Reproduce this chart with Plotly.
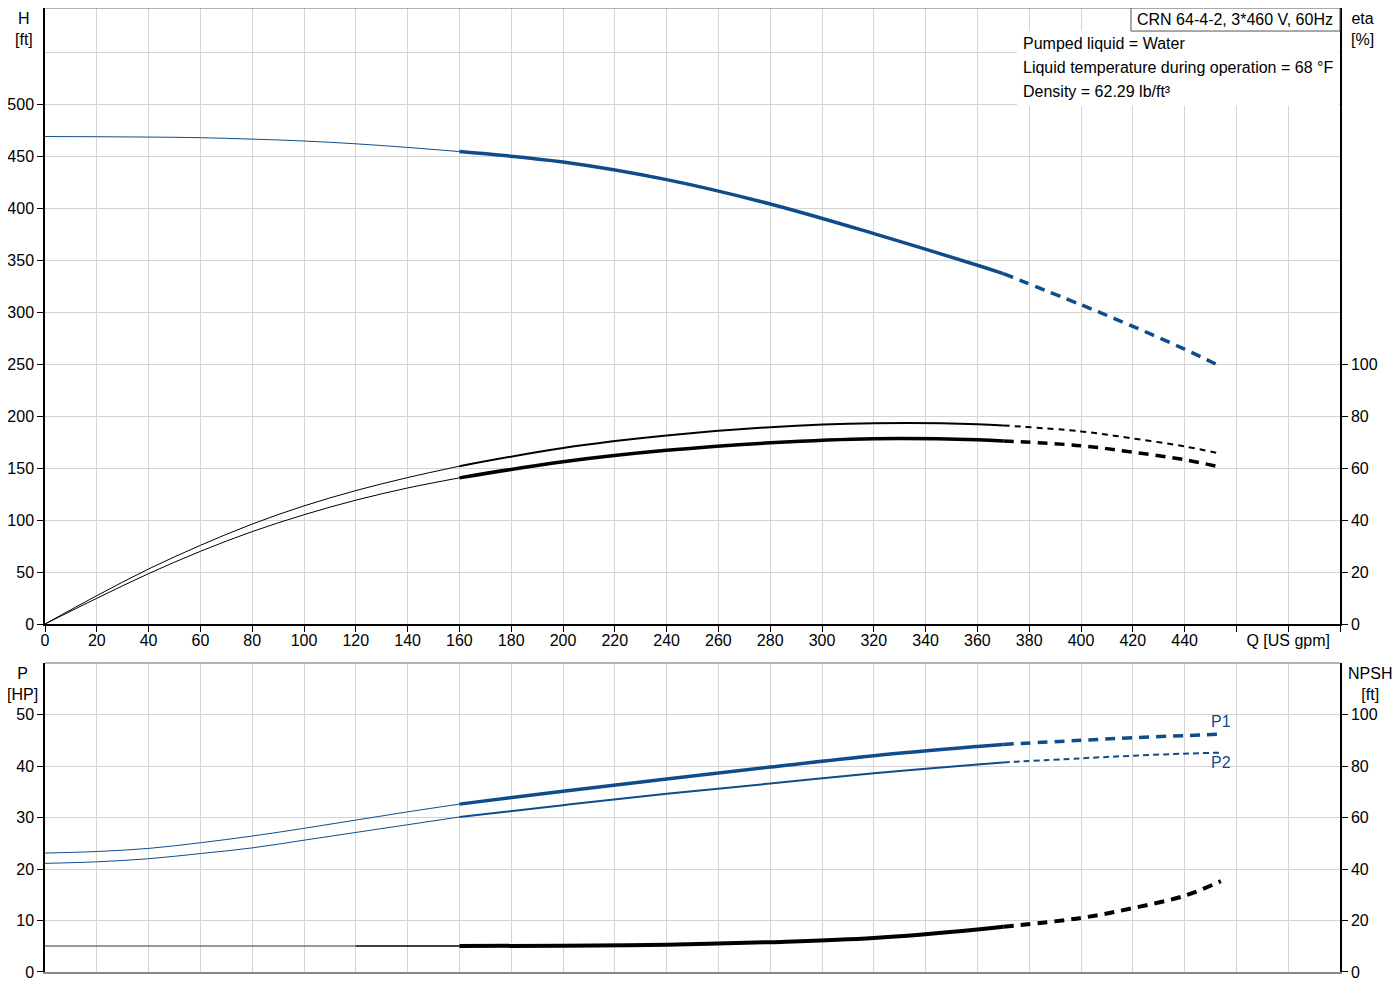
"""Curvas de la bomba CRN 64-4-2 (H, eta, P1, P2, NPSH) con Plotly"""

import plotly.graph_objects as go

# Caudal (US gpm) en el que se leyeron los valores
q = [0, 20, 40, 60, 80, 100, 120, 140, 160, 200, 240, 280, 320, 360, 370,
     400, 420, 440, 454]

# Altura H [ft]
altura = [469.5, 469.3, 469.0, 468.4, 467.0, 465.2, 462.5, 459.0, 455.0,
          445.0, 428.0, 404.5, 376.0, 345.5, 337.5, 307.5, 286.7, 264.7, 248.0]

# Rendimientos [%]
eta_1 = [0, 10.9, 21.2, 30.3, 38.5, 45.5, 51.4, 56.4, 60.8, 67.8, 72.6, 75.8,
         77.3, 77.0, 76.5, 74.2, 71.5, 68.4, 65.6]
eta_2 = [0, 9.9, 19.4, 28.0, 35.6, 42.1, 47.7, 52.4, 56.3, 62.5, 66.9, 69.8,
         71.4, 71.0, 70.5, 68.7, 66.2, 63.3, 60.4]

# Potencias [HP]
p1 = [23.1, 23.4, 24.0, 25.1, 26.4, 27.9, 29.5, 31.1, 32.6, 35.1, 37.5, 39.8,
      42.0, 43.8, 44.2, 45.0, 45.5, 45.9, 46.2]
p2 = [21.1, 21.4, 22.0, 23.0, 24.1, 25.6, 27.1, 28.6, 30.1, 32.4, 34.6, 36.6,
      38.6, 40.3, 40.7, 41.5, 42.0, 42.4, 42.6]

# NPSH [ft]
npsh = [10.1, 10.1, 10.1, 10.1, 10.1, 10.1, 10.1, 10.1, 10.1, 10.2, 10.6,
        11.6, 13.2, 16.5, 17.6, 21.0, 24.8, 29.6, 35.3]

# Etiquetas de los ejes
q_ticks = list(range(0, 520, 20))
q_labels = [str(v) for v in range(0, 460, 20)] + ["", "Q [US gpm]", ""]
h_ticks = list(range(0, 550, 50))
eta_ticks = list(range(0, 120, 20))
p_ticks = list(range(0, 60, 10))
npsh_ticks = list(range(0, 120, 20))

info = ["Pumped liquid = Water",
        "Liquid temperature during operation = 68 °F",
        "Density = 62.29 lb/ft³"]
titulo = "CRN 64-4-2, 3*460 V, 60Hz"

azul = "#0f4d8a"
negro = "#000000"
gris = "#d4d4d4"
fuente = "Liberation Sans, Arial, sans-serif"

i160 = q.index(160)
i370 = q.index(370)
i120 = q.index(120)


def tramos(fig, y, color, ancho, ancho_fino, dash, xa, ya):
    """Dibuja tramo fino, tramo continuo y tramo discontinuo"""
    fig.add_trace(go.Scatter(x=q[:i160 + 1], y=y[:i160 + 1], mode="lines",
                             line=dict(color=color, width=ancho_fino, shape="spline"),
                             xaxis=xa, yaxis=ya, showlegend=False, hoverinfo="skip"))
    fig.add_trace(go.Scatter(x=q[i160:i370 + 1], y=y[i160:i370 + 1], mode="lines",
                             line=dict(color=color, width=ancho, shape="spline"),
                             xaxis=xa, yaxis=ya, showlegend=False, hoverinfo="skip"))
    fig.add_trace(go.Scatter(x=q[i370:], y=y[i370:], mode="lines",
                             line=dict(color=color, width=ancho, dash=dash, shape="spline"),
                             xaxis=xa, yaxis=ya, showlegend=False, hoverinfo="skip"))


fig = go.Figure()

# Panel superior
tramos(fig, altura, azul, 3.5, 1, "10px,7px", "x", "y")
tramos(fig, eta_1, negro, 2, 1, "6px,5px", "x", "y2")
tramos(fig, eta_2, negro, 3.5, 1, "10px,7px", "x", "y2")

# Panel inferior
tramos(fig, p1, azul, 3.5, 1, "10px,7px", "x2", "y3")
tramos(fig, p2, azul, 2, 1, "6px,4px", "x2", "y3")

# NPSH: primer tramo gris y luego negro
fig.add_trace(go.Scatter(x=q[:i120 + 1], y=npsh[:i120 + 1], mode="lines",
                         line=dict(color="#777777", width=1.5),
                         xaxis="x2", yaxis="y4", showlegend=False, hoverinfo="skip"))
fig.add_trace(go.Scatter(x=q[i120:i160 + 1], y=npsh[i120:i160 + 1], mode="lines",
                         line=dict(color=negro, width=1.5),
                         xaxis="x2", yaxis="y4", showlegend=False, hoverinfo="skip"))
fig.add_trace(go.Scatter(x=q[i160:i370 + 1], y=npsh[i160:i370 + 1], mode="lines",
                         line=dict(color=negro, width=4, shape="spline"),
                         xaxis="x2", yaxis="y4", showlegend=False, hoverinfo="skip"))
fig.add_trace(go.Scatter(x=q[i370:], y=npsh[i370:], mode="lines",
                         line=dict(color=negro, width=4, dash="10px,7px", shape="spline"),
                         xaxis="x2", yaxis="y4", showlegend=False, hoverinfo="skip"))

eje = dict(showline=True, linecolor=negro, linewidth=1.5, ticks="outside",
           ticklen=6, tickcolor=negro, tickfont=dict(size=16, color=negro),
           zeroline=False, automargin=False)

# La página deja 8 px de margen, el área de datos se ajusta a eso
top_dom = [0.3610, 1.0]
bot_dom = [0.0, 0.3205]
h_max = 593.3

fig.update_layout(
    width=1392, height=992,
    margin=dict(l=37, r=60, t=0, b=28),
    plot_bgcolor="white", paper_bgcolor="white",
    font=dict(family=fuente, size=16, color=negro),
    xaxis=dict(eje, domain=[0, 1], range=[0, 500], anchor="y",
               tickvals=q_ticks, ticktext=q_labels, ticklabelstandoff=-5,
               showgrid=True, gridcolor=gris, gridwidth=1),
    xaxis2=dict(domain=[0, 1], range=[0, 500], anchor="y3",
                tickvals=q_ticks, showticklabels=False, ticks="",
                showline=True, linecolor="#888888", linewidth=1.5,
                showgrid=True, gridcolor=gris, gridwidth=1, zeroline=False,
                automargin=False),
    yaxis=dict(eje, domain=top_dom, range=[0, h_max], anchor="x",
               tickvals=h_ticks, showgrid=True, gridcolor=gris, gridwidth=1,
               minor=dict(tickvals=[550], showgrid=True, gridcolor=gris, ticks="")),
    yaxis2=dict(eje, domain=top_dom, range=[0, h_max * 0.4], anchor="x",
                overlaying="y", side="right", tickvals=eta_ticks, showgrid=False),
    yaxis3=dict(eje, domain=bot_dom, range=[0, 60], anchor="x2",
                tickvals=p_ticks, showgrid=True, gridcolor=gris, gridwidth=1),
    yaxis4=dict(eje, domain=bot_dom, range=[0, 120], anchor="x2",
                overlaying="y3", side="right", tickvals=npsh_ticks, showgrid=False),
)

# Bordes superiores grises de cada panel
for y_borde in [top_dom[1], bot_dom[1]]:
    fig.add_shape(type="line", xref="paper", yref="paper", x0=0, x1=1,
                  y0=y_borde, y1=y_borde, line=dict(color="#999999", width=1.5))

# Fondo blanco del texto informativo y caja del título
fig.add_shape(type="rect", xref="paper", yref="paper", x0=0.7506, x1=0.999,
              y0=0.8983, y1=0.9761, fillcolor="white", line=dict(width=0),
              layer="above")
fig.add_shape(type="rect", xref="paper", yref="paper", x0=0.8386, x1=1.0,
              y0=0.9761, y1=1.0, fillcolor="white",
              line=dict(color="#555555", width=1), layer="above")
fig.add_annotation(text=titulo, xref="paper", yref="paper", x=0.919, y=0.9883,
                   showarrow=False, xanchor="center", yanchor="middle",
                   font=dict(size=16))

for k, linea in enumerate(info):
    fig.add_annotation(text=linea, xref="paper", yref="paper",
                       x=0.7536, y=0.9627 - k * 0.0249, showarrow=False,
                       xanchor="left", yanchor="middle", font=dict(size=16))

# Nombres de los ejes
etiquetas = [("H<br>[ft]", -0.016, 1.0),
             ("eta<br>[%]", 1.017, 1.0),
             ("P<br>[HP]", -0.0175, 0.3205),
             ("NPSH<br>[ft]", 1.023, 0.3205)]
for texto, xp, yp in etiquetas:
    fig.add_annotation(text=texto, xref="paper", yref="paper", x=xp, y=yp,
                       showarrow=False, xanchor="center", yanchor="top",
                       font=dict(size=16), align="center")

# Etiquetas P1 y P2
fig.add_annotation(text="P1", x=q[-1], y=p1[-1], xref="x2", yref="y3",
                   showarrow=False, xanchor="center", yanchor="bottom",
                   yshift=2, font=dict(size=16, color=azul))
fig.add_annotation(text="P2", x=q[-1], y=p2[-1], xref="x2", yref="y3",
                   showarrow=False, xanchor="center", yanchor="top",
                   yshift=1, font=dict(size=16, color=azul))

fig.write_html("out.html")
